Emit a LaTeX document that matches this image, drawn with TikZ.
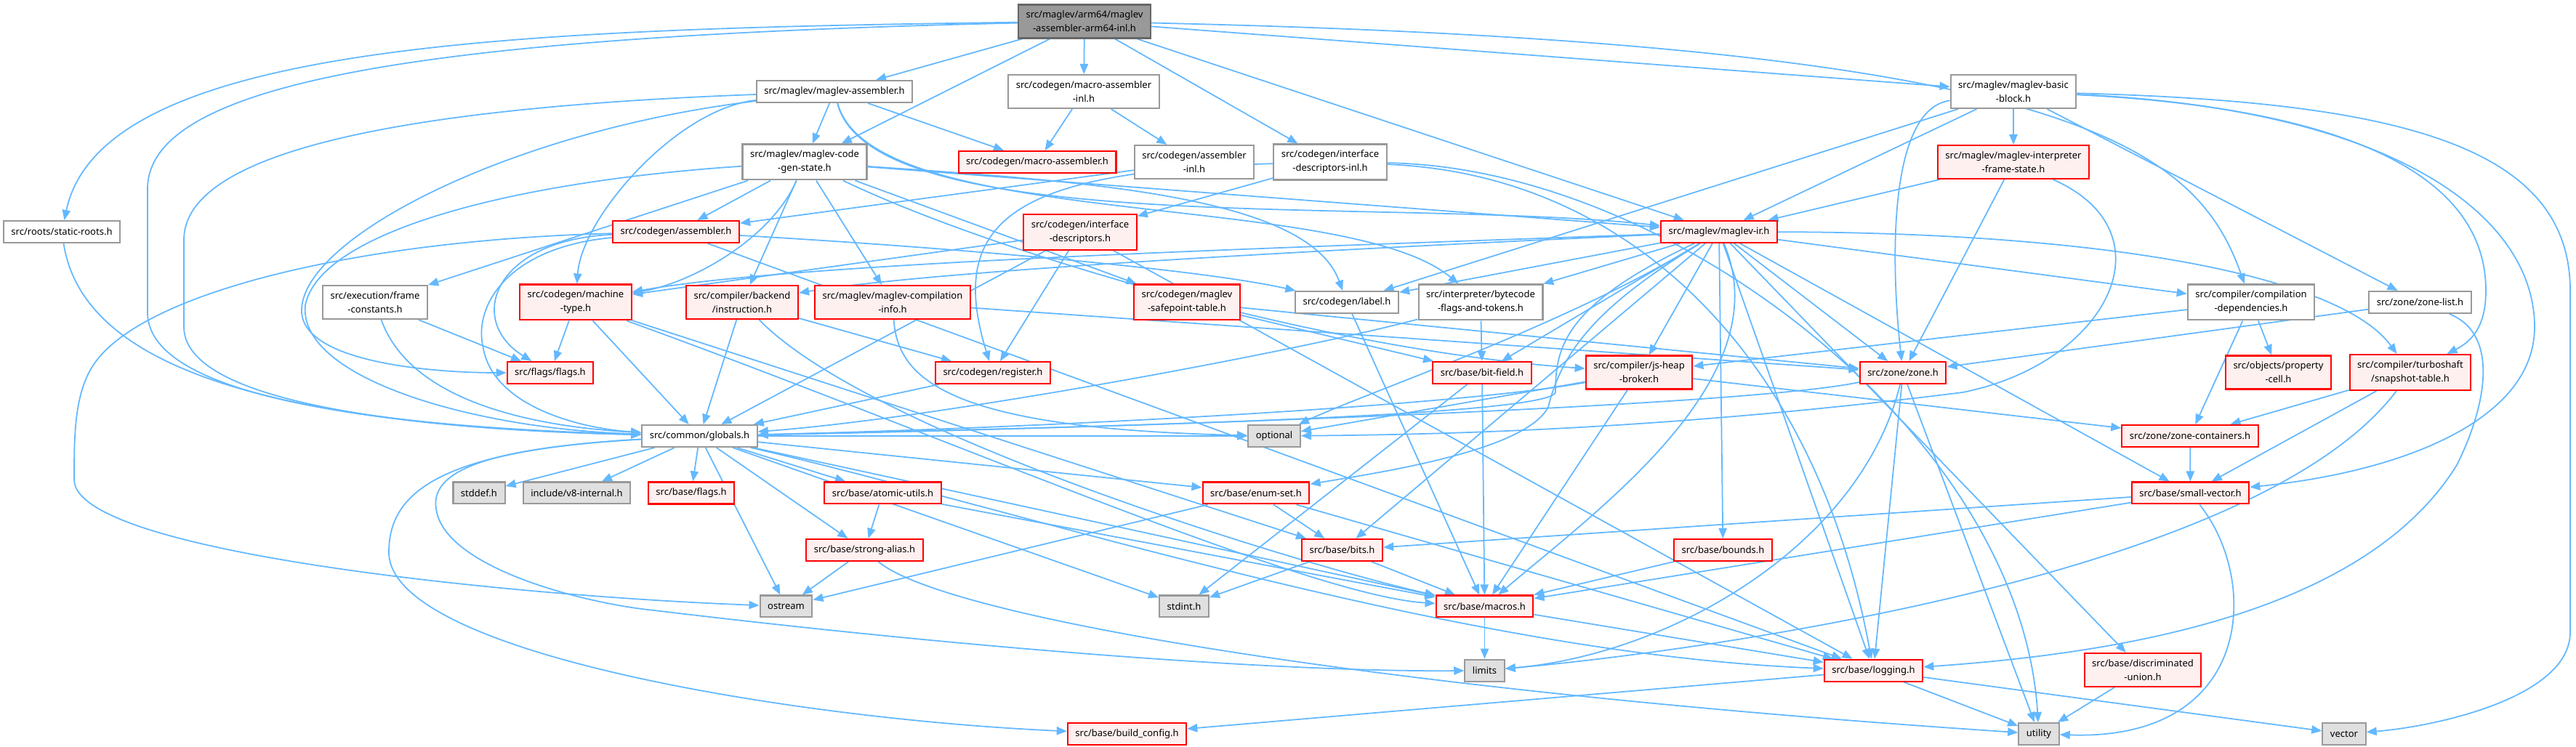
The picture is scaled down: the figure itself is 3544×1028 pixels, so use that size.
\documentclass[tikz,border=0pt]{standalone}
\usepackage{fontspec}
\setmainfont{Noto Sans}
\usetikzlibrary{arrows.meta}
\definecolor{incblue}{HTML}{63B8FF}
\definecolor{truncfill}{HTML}{FFF0F0}
\definecolor{truncline}{HTML}{FF0000}
\definecolor{sysfill}{HTML}{E0E0E0}
\definecolor{hdrline}{HTML}{999999}
\definecolor{mainfill}{HTML}{999999}
\definecolor{mainline}{HTML}{666666}
\pgfdeclarelayer{back}
\pgfsetlayers{back,main}
\begin{document}
\begin{tikzpicture}[x=0.01cm, y=-0.01cm,
  hdr/.style={draw=hdrline, fill=white, line width=0.6pt, inner xsep=3pt, inner ysep=2.4pt,
    minimum height=8.5pt, align=center, font=\fontsize{3.7pt}{5.4pt}\selectfont},
  hdrtrunc/.style={hdr, draw=truncline, fill=truncfill},
  hdrsys/.style={hdr, fill=sysfill},
  hdrmain/.style={hdr, draw=mainline, fill=mainfill},
  incl/.style={draw=incblue, line width=0.5pt, -{Triangle[length=4pt,width=3.2pt]}}]

% row 0
\node[hdrmain] (arm64inl) at (1492,29.5) {src/maglev/arm64/maglev\\-assembler-arm64-inl.h};
% row 1
\node[hdr] (masm) at (1148,126) {src/maglev/maglev-assembler.h};
\node[hdr] (macroinl) at (1491,126) {src/codegen/macro-assembler\\-inl.h};
\node[hdr] (bblock) at (2770,126) {src/maglev/maglev-basic\\-block.h};
% row 2
\node[hdr] (cgstate) at (1107,223) {src/maglev/maglev-code\\-gen-state.h};
\node[hdrtrunc] (macroasm) at (1427,223) {src/codegen/macro-assembler.h};
\node[hdr] (asminl) at (1643,223) {src/codegen/assembler\\-inl.h};
\node[hdr] (idescinl) at (1830,223) {src/codegen/interface\\-descriptors-inl.h};
\node[hdrtrunc] (framestate) at (2770,223) {src/maglev/maglev-interpreter\\-frame-state.h};
% row 3
\node[hdr] (roots) at (85,319) {src/roots/static-roots.h};
\node[hdrtrunc] (asm) at (930,319) {src/codegen/assembler.h};
\node[hdrtrunc] (idesc) at (1486,319.5) {src/codegen/interface\\-descriptors.h};
\node[hdrtrunc] (ir) at (2365,319) {src/maglev/maglev-ir.h};
% row 4
\node[hdr] (frameconst) at (516,416) {src/execution/frame\\-constants.h};
\node[hdrtrunc] (mtype) at (792,416) {src/codegen/machine\\-type.h};
\node[hdrtrunc] (instr) at (1021,416) {src/compiler/backend\\/instruction.h};
\node[hdrtrunc] (cinfo) at (1228,416) {src/maglev/maglev-compilation\\-info.h};
\node[hdrtrunc] (safept) at (1633,416) {src/codegen/maglev\\-safepoint-table.h};
\node[hdr] (label) at (1853,416) {src/codegen/label.h};
\node[hdr] (bcflags) at (2037,416) {src/interpreter/bytecode\\-flags-and-tokens.h};
\node[hdr] (cdeps) at (3097,416) {src/compiler/compilation\\-dependencies.h};
\node[hdr] (zonelist) at (3329.5,416) {src/zone/zone-list.h};
% row 5
\node[hdrtrunc] (flags) at (757,513) {src/flags/flags.h};
\node[hdrtrunc] (reg) at (1366,513) {src/codegen/register.h};
\node[hdrtrunc] (bitfield) at (2039,513) {src/base/bit-field.h};
\node[hdrtrunc] (broker) at (2255,512.5) {src/compiler/js-heap\\-broker.h};
\node[hdrtrunc] (zone) at (2618,513) {src/zone/zone.h};
\node[hdrtrunc] (pcell) at (3134.5,512.5) {src/objects/property\\-cell.h};
\node[hdrtrunc] (snap) at (3316,512.5) {src/compiler/turboshaft\\/snapshot-table.h};
% row 6
\node[hdr] (globals) at (962.5,600) {src/common/globals.h};
\node[hdrsys] (optional) at (1753,600) {optional};
\node[hdrtrunc] (zcont) at (3013,600) {src/zone/zone-containers.h};
% row 7
\node[hdrsys] (stddef) at (659,678.5) {stddef.h};
\node[hdrsys] (v8int) at (793.5,678.5) {include/v8-internal.h};
\node[hdrtrunc] (bflags) at (951,678.5) {src/base/flags.h};
\node[hdrtrunc] (atomic) at (1214.5,678.5) {src/base/atomic-utils.h};
\node[hdrtrunc] (enumset) at (1728,678.5) {src/base/enum-set.h};
\node[hdrtrunc] (smallvec) at (3013.5,678.5) {src/base/small-vector.h};
% row 8
\node[hdrtrunc] (alias) at (1189.5,757) {src/base/strong-alias.h};
\node[hdrtrunc] (bits) at (1846.5,757) {src/base/bits.h};
\node[hdrtrunc] (bounds) at (2370.5,757) {src/base/bounds.h};
% row 9
\node[hdrsys] (ostream) at (1081.5,834.5) {ostream};
\node[hdrsys] (stdint) at (1629,834.5) {stdint.h};
\node[hdrtrunc] (macros) at (2042.5,834.5) {src/base/macros.h};
% row 10
\node[hdrsys] (limits) at (2042.5,922.7) {limits};
\node[hdrtrunc] (logging) at (2577.5,922.7) {src/base/logging.h};
\node[hdrtrunc] (dunion) at (2948,922) {src/base/discriminated\\-union.h};
% row 11
\node[hdrtrunc] (buildcfg) at (1550.5,1010) {src/base/build\_config.h};
\node[hdrsys] (utility) at (2805,1010) {utility};
\node[hdrsys] (vector) at (3225,1010) {vector};

\begin{pgfonlayer}{back}
\fill[white] (0,0) rectangle (3544,1028);
% from the arm64 header
\draw[incl] (arm64inl) .. controls (700,40) and (140,60) .. (roots);
\draw[incl] (arm64inl) .. controls (600,50) and (203,110) .. (203,260) -- (203,430) .. controls (203,560) and (600,590) .. (globals);
\draw[incl] (arm64inl) -- (masm);
\draw[incl] (arm64inl) -- (cgstate);
\draw[incl] (arm64inl) -- (macroinl);
\draw[incl] (arm64inl) -- (idescinl);
\draw[incl] (arm64inl) -- (ir);
\draw[incl] (arm64inl) -- (bblock);
\draw[incl] (arm64inl) .. controls (2850,60) and (3020,200) .. (cdeps);
% maglev-assembler.h
\draw[incl] (masm) -- (cgstate);
\draw[incl] (masm) -- (macroasm);
\draw[incl] (masm) .. controls (930,150) and (800,300) .. (mtype);
\draw[incl] (masm) .. controls (500,150) and (253,220) .. (253,330) -- (253,450) .. controls (253,560) and (600,592) .. (globals);
\draw[incl] (masm) .. controls (700,180) and (410,330) .. (415,430) .. controls (420,500) and (600,513) .. (flags);
\draw[incl] (masm) .. controls (1200,320) and (1850,260) .. (bcflags);
\draw[incl] (masm) .. controls (1200,330) and (1900,270) .. (ir);
% codegen inl headers
\draw[incl] (macroinl) -- (macroasm);
\draw[incl] (macroinl) -- (asminl);
\draw[incl] (asminl) -- (asm);
\draw[incl] (idescinl) -- (idesc);
\draw[incl] (idescinl) .. controls (1400,235) and (1300,300) .. (reg);
\draw[incl] (idescinl) .. controls (2250,240) and (2500,500) .. (logging);
\draw[incl] (idescinl) .. controls (2300,230) and (2780,600) .. (utility);
% basic block
\draw[incl] (bblock) -- (framestate);
\draw[incl] (bblock) -- (ir);
\draw[incl] (bblock) -- (label);
\draw[incl] (bblock) .. controls (2600,150) and (2600,350) .. (zone);
\draw[incl] (bblock) -- (zonelist);
\draw[incl] (bblock) .. controls (3250,150) and (3420,250) .. (3420,400) .. controls (3420,450) and (3400,470) .. (snap);
\draw[incl] (bblock) .. controls (3300,150) and (3487,300) .. (3487,450) .. controls (3487,580) and (3300,650) .. (smallvec);
\draw[incl] (bblock) .. controls (3300,140) and (3536,200) .. (3536,400) -- (3536,870) .. controls (3536,960) and (3350,1000) .. (vector);
% code-gen-state
\draw[incl] (cgstate) -- (asm);
\draw[incl] (cgstate) -- (frameconst);
\draw[incl] (cgstate) -- (instr);
\draw[incl] (cgstate) -- (cinfo);
\draw[incl] (cgstate) -- (safept);
\draw[incl] (cgstate) .. controls (1500,250) and (1800,270) .. (label);
\draw[incl] (cgstate) .. controls (1060,330) and (950,390) .. (mtype);
\draw[incl] (cgstate) .. controls (700,250) and (440,320) .. (420,420) .. controls (410,520) and (650,590) .. (globals);
\draw[incl] (cgstate) .. controls (1350,340) and (1800,480) .. (broker);
\draw[incl] (cgstate) -- (ir);
% frame state
\draw[incl] (framestate) -- (ir);
\draw[incl] (framestate) -- (zone);
\draw[incl] (framestate) .. controls (2990,320) and (2900,500) .. (2700,540) .. controls (2300,590) and (2000,598) .. (optional);
% assembler.h
\draw[incl] (asm) .. controls (1300,340) and (1650,370) .. (label);
\draw[incl] (asm) .. controls (680,330) and (640,440) .. (flags);
\draw[incl] (asm) .. controls (700,340) and (650,420) .. (665,480) .. controls (680,560) and (800,590) .. (globals);
\draw[incl] (asm) .. controls (500,330) and (200,400) .. (130,500) .. controls (102,540) and (102,600) .. (102,660) .. controls (102,760) and (700,820) .. (ostream);
\draw[incl] (asm) -- (logging);
% interface descriptors
\draw[incl] (idesc) -- (mtype);
\draw[incl] (idesc) -- (reg);
\draw[incl] (idesc) -- (globals);
\draw[incl] (idesc) -- (logging);
% maglev-ir.h
\draw[incl] (ir) .. controls (1900,340) and (1300,370) .. (instr);
\draw[incl] (ir) .. controls (1800,340) and (1100,360) .. (mtype);
\draw[incl] (ir) -- (label);
\draw[incl] (ir) -- (bcflags);
\draw[incl] (ir) -- (bitfield);
\draw[incl] (ir) -- (broker);
\draw[incl] (ir) -- (zone);
\draw[incl] (ir) -- (cdeps);
\draw[incl] (ir) .. controls (2900,320) and (3220,380) .. (snap);
\draw[incl] (ir) -- (smallvec);
\draw[incl] (ir) -- (dunion);
\draw[incl] (ir) -- (logging);
\draw[incl] (ir) -- (bounds);
\draw[incl] (ir) .. controls (2450,520) and (2200,700) .. (macros);
\draw[incl] (ir) .. controls (2150,450) and (1880,540) .. (optional);
\draw[incl] (ir) .. controls (2200,420) and (2150,480) .. (2130,560) .. controls (2100,620) and (1900,650) .. (enumset);
\draw[incl] (ir) .. controls (2150,420) and (2140,480) .. (2140,540) .. controls (2130,575) and (1400,590) .. (globals);
\draw[incl] (ir) -- (bits);
% middle rows
\draw[incl] (roots) .. controls (110,480) and (300,585) .. (globals);
\draw[incl] (frameconst) -- (flags);
\draw[incl] (frameconst) .. controls (560,540) and (700,585) .. (globals);
\draw[incl] (mtype) -- (flags);
\draw[incl] (mtype) -- (globals);
\draw[incl] (mtype) -- (bits);
\draw[incl] (mtype) .. controls (1300,600) and (1800,820) .. (macros);
\draw[incl] (instr) -- (reg);
\draw[incl] (instr) -- (globals);
\draw[incl] (instr) .. controls (1200,600) and (1800,780) .. (macros);
\draw[incl] (cinfo) .. controls (1235,520) and (1300,590) .. (optional);
\draw[incl] (cinfo) -- (zone);
\draw[incl] (safept) -- (bitfield);
\draw[incl] (safept) -- (zone);
\draw[incl] (label) -- (macros);
\draw[incl] (bcflags) -- (bitfield);
\draw[incl] (bcflags) .. controls (1800,480) and (1300,575) .. (globals);
\draw[incl] (cdeps) -- (pcell);
\draw[incl] (cdeps) -- (zcont);
\draw[incl] (cdeps) -- (broker);
\draw[incl] (zonelist) -- (zone);
\draw[incl] (zonelist) .. controls (3440,460) and (3420,560) .. (3380,640) .. controls (3250,850) and (2900,900) .. (logging);
\draw[incl] (reg) -- (globals);
\draw[incl] (bitfield) -- (macros);
\draw[incl] (bitfield) -- (stdint);
\draw[incl] (broker) .. controls (2000,560) and (1400,590) .. (globals);
\draw[incl] (broker) -- (optional);
\draw[incl] (broker) -- (macros);
\draw[incl] (broker) -- (zcont);
\draw[incl] (zone) .. controls (2400,560) and (1500,590) .. (globals);
\draw[incl] (zone) .. controls (2560,750) and (2300,900) .. (limits);
\draw[incl] (zone) -- (logging);
\draw[incl] (zone) -- (utility);
\draw[incl] (snap) -- (zcont);
\draw[incl] (snap) -- (smallvec);
\draw[incl] (snap) .. controls (3100,800) and (2300,900) .. (limits);
% globals.h
\draw[incl] (globals) -- (stddef);
\draw[incl] (globals) -- (v8int);
\draw[incl] (globals) -- (bflags);
\draw[incl] (globals) -- (atomic);
\draw[incl] (globals) -- (alias);
\draw[incl] (globals) -- (ostream);
\draw[incl] (globals) -- (enumset);
\draw[incl] (globals) -- (optional);
\draw[incl] (globals) -- (stdint);
\draw[incl] (globals) -- (macros);
\draw[incl] (globals) .. controls (700,615) and (590,640) .. (600,700) .. controls (610,780) and (800,830) .. (900,840) .. controls (1400,900) and (1800,925) .. (limits);
\draw[incl] (globals) .. controls (1400,700) and (2000,900) .. (logging);
\draw[incl] (globals) .. controls (600,620) and (535,680) .. (535,760) .. controls (535,900) and (1100,990) .. (buildcfg);
% base headers
\draw[incl] (zcont) -- (smallvec);
\draw[incl] (atomic) -- (alias);
\draw[incl] (atomic) -- (macros);
\draw[incl] (enumset) -- (ostream);
\draw[incl] (enumset) -- (bits);
\draw[incl] (enumset) -- (logging);
\draw[incl] (smallvec) -- (bits);
\draw[incl] (smallvec) -- (macros);
\draw[incl] (smallvec) .. controls (3110,800) and (3100,1020) .. (utility);
\draw[incl] (alias) -- (ostream);
\draw[incl] (alias) .. controls (1300,850) and (1900,950) .. (utility);
\draw[incl] (bits) -- (macros);
\draw[incl] (bits) -- (stdint);
\draw[incl] (bounds) -- (macros);
\draw[incl] (macros) -- (limits);
\draw[incl] (macros) -- (logging);
\draw[incl] (logging) -- (buildcfg);
\draw[incl] (logging) -- (utility);
\draw[incl] (logging) -- (vector);
\draw[incl] (dunion) -- (utility);
\end{pgfonlayer}
\end{tikzpicture}
\end{document}
